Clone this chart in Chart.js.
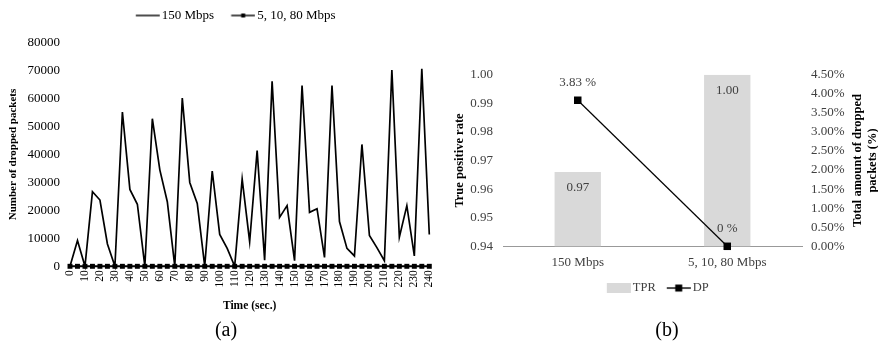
<!DOCTYPE html>
<html>
<head>
<meta charset="utf-8">
<script src="https://cdn.jsdelivr.net/npm/chart.js@4.4.0/dist/chart.umd.min.js"></script>
<style>
  html, body { margin: 0; padding: 0; background: #fff; }
  #wrap { position: relative; width: 878px; height: 348px; overflow: hidden; font-family: "Liberation Serif", "Times New Roman", serif; }
  .cap { position: absolute; top: 317px; width: 40px; text-align: center; font-size: 20px; line-height: 24px; color: #000; }
</style>
</head>
<body>
<div id="wrap">
  <canvas id="chartB" width="438" height="318" style="position:absolute;left:440px;top:0;"></canvas>
  <canvas id="chartA" width="502" height="318" style="position:absolute;left:0;top:0;"></canvas>
  <div class="cap" style="left:206px;">(a)</div>
  <div class="cap" style="left:647px;">(b)</div>
</div>
<script>
// (a) dropped packets over time
const timeLabels = ['0','5','10','15','20','25','30','35','40','45','50','55','60','65','70','75','80','85','90','95',
  '100','105','110','115','120','125','130','135','140','145','150','155','160','165','170','175','180','185','190','195',
  '200','205','210','215','220','225','230','235','240'];
const drops150 = [0, 9200, 0, 26700, 23700, 8000, 0, 55200, 27500, 22200,
  0, 52800, 34500, 23100, 0, 60200, 30000, 22500, 0, 34100,
  11400, 6400, 0, 31200, 8800, 41400, 2200, 66200, 17500, 21700,
  2000, 64700, 19300, 20600, 3200, 64700, 16000, 6400, 3700, 43600,
  11000, 6700, 2000, 70200, 10400, 21700, 3700, 70700, 11400];
const dropsOther = [0, 0, 0, 0, 0, 0, 0, 0, 0, 0,
  0, 0, 0, 0, 0, 0, 0, 0, 0, 0,
  0, 0, 0, 0, 0, 0, 0, 0, 0, 0,
  0, 0, 0, 0, 0, 0, 0, 0, 0, 0,
  0, 0, 0, 0, 0, 0, 0, 0, 0];

// (b) true positive rate vs dropped packets
const rateLabels = ['150 Mbps', '5, 10, 80 Mbps'];
const tprValues = [0.966, 1.0];
const dpValues = [3.83, 0];

const SERIF = '"Liberation Serif", "Times New Roman", serif';
Chart.defaults.font.family = SERIF;
Chart.defaults.animation = false;

// legend icon: 24px line/box, shifted right so it sits close to its text
function legendIcon(kind, shift, marker) {
  const c = document.createElement('canvas');
  c.width = Math.ceil(2 * (12 + shift));
  c.height = 10;
  const g = c.getContext('2d');
  const x0 = c.width / 2 + shift - 12;
  if (kind === 'box') {
    g.fillStyle = '#d9d9d9';
    g.fillRect(x0, 0, 24, 10);
  } else {
    g.strokeStyle = '#000';
    g.lineWidth = 1.4;
    g.beginPath();
    g.moveTo(x0, 5);
    g.lineTo(x0 + 24, 5);
    g.stroke();
    if (marker) {
      g.fillStyle = '#000';
      g.fillRect(x0 + 12 - marker / 2, 5 - marker / 2, marker, marker);
    }
  }
  return c;
}

function fixedLegendHeight(h) {
  return {
    id: 'legendHeight',
    beforeInit(chart) {
      const fit = chart.legend.fit;
      chart.legend.fit = function () {
        fit.bind(chart.legend)();
        this.height = h;
      };
    }
  };
}

// ---------- chart (a) ----------
const iconsA = [legendIcon('line', 6.25, 0), legendIcon('line', 6.25, 4)];

new Chart(document.getElementById('chartA'), {
  type: 'line',
  data: {
    labels: timeLabels,
    datasets: [
      {
        label: '150 Mbps',
        data: drops150,
        borderColor: '#000',
        borderWidth: 1.7,
        pointRadius: 0,
        tension: 0,
        order: 1,
        clip: false
      },
      {
        label: '5, 10, 80 Mbps',
        data: dropsOther,
        borderColor: '#000',
        backgroundColor: '#000',
        borderWidth: 2,
        pointStyle: 'rect',
        pointRadius: 3.5,
        pointBorderWidth: 0,
        order: 0,
        clip: false
      }
    ]
  },
  options: {
    responsive: false,
    // legend spans up to x=463 so it centres like the original; the axis keeps the plot to x=429
    layout: { padding: { left: 0, right: 38.7, top: 0, bottom: 0 } },
    plugins: {
      tooltip: { enabled: false },
      legend: {
        position: 'top',
        labels: {
          usePointStyle: true,
          pointStyleWidth: 27.5,
          padding: 9,
          color: '#000',
          font: { size: 13, family: SERIF },
          sort: (a, b) => a.datasetIndex - b.datasetIndex,
          generateLabels(chart) {
            const items = Chart.defaults.plugins.legend.labels.generateLabels(chart);
            items.forEach(it => { it.pointStyle = iconsA[it.datasetIndex]; });
            return items;
          }
        }
      }
    },
    scales: {
      x: {
        grid: { display: false, drawTicks: false },
        border: { display: false },
        ticks: {
          autoSkip: false,
          minRotation: 90,
          maxRotation: 90,
          padding: 4,
          color: '#000',
          font: { size: 11.5 },
          callback: function (val, idx) {
            return idx % 2 === 0 ? this.getLabelForValue(val) : '';
          }
        },
        title: {
          display: true,
          text: 'Time (sec.)',
          color: '#000',
          font: { size: 11.5, weight: 'bold' },
          padding: { top: 0, bottom: 5 }
        },
        afterFit(scale) {
          scale.height = 51.7;
          scale.paddingRight = 72.7;
        }
      },
      y: {
        min: 0,
        max: 80000,
        grid: { display: false, drawTicks: false },
        border: { display: false },
        ticks: {
          stepSize: 10000,
          padding: 10,
          color: '#000',
          font: { size: 13 },
          callback: v => String(v)
        },
        title: {
          display: true,
          text: 'Number of dropped packets',
          color: '#000',
          font: { size: 11, weight: 'bold' },
          padding: { top: 7, bottom: 0 }
        },
        afterFit(scale) { scale.width = 70; }
      }
    }
  },
  plugins: [fixedLegendHeight(42.7)]
});

// ---------- chart (b) ----------
const iconsB = [legendIcon('box', 4.875, 0), legendIcon('line', 4.875, 7)];

const valueLabels = {
  id: 'valueLabels',
  afterDatasetsDraw(chart) {
    const ctx = chart.ctx;
    ctx.save();
    ctx.font = '13px ' + SERIF;
    ctx.fillStyle = '#404040';
    ctx.textAlign = 'center';
    ctx.textBaseline = 'middle';
    chart.getDatasetMeta(0).data.forEach((bar, i) => {
      ctx.fillText(tprValues[i].toFixed(2), bar.x, bar.y + 16);
    });
    chart.getDatasetMeta(1).data.forEach((pt, i) => {
      ctx.fillText(dpValues[i] + ' %', pt.x, pt.y - 17.5);
    });
    // right axis title, reading bottom to top like the left one
    const y1 = chart.scales.y1;
    const cy = (y1.top + y1.bottom) / 2;
    ctx.font = 'bold 12.5px ' + SERIF;
    ctx.fillStyle = '#000';
    ctx.translate(418, cy);
    ctx.rotate(-Math.PI / 2);
    ctx.fillText('Total amount of dropped', 0, 0);
    ctx.fillText('packets (%)', 0, 15);
    ctx.restore();
  }
};

new Chart(document.getElementById('chartB'), {
  type: 'bar',
  data: {
    labels: rateLabels,
    datasets: [
      {
        type: 'bar',
        label: 'TPR',
        data: tprValues,
        yAxisID: 'y',
        backgroundColor: '#d9d9d9',
        categoryPercentage: 1.0,
        barPercentage: 0.31,
        order: 1
      },
      {
        type: 'line',
        label: 'DP',
        data: dpValues,
        yAxisID: 'y1',
        borderColor: '#000',
        backgroundColor: '#000',
        borderWidth: 1.2,
        pointStyle: 'rect',
        pointRadius: 5.3,
        pointBorderWidth: 0,
        tension: 0,
        order: 0,
        clip: false
      }
    ]
  },
  options: {
    responsive: false,
    layout: { padding: { left: 0, right: 8, top: 74.7, bottom: 0 } },
    plugins: {
      tooltip: { enabled: false },
      legend: {
        position: 'bottom',
        labels: {
          usePointStyle: true,
          pointStyleWidth: 25.25,
          padding: 5.5,
          color: '#404040',
          font: { size: 12.5, family: SERIF },
          sort: (a, b) => a.datasetIndex - b.datasetIndex,
          generateLabels(chart) {
            const items = Chart.defaults.plugins.legend.labels.generateLabels(chart);
            items.forEach(it => { it.pointStyle = iconsB[it.datasetIndex]; });
            return items;
          }
        }
      }
    },
    scales: {
      x: {
        grid: { display: false, drawTicks: false },
        border: { display: true, color: '#999', width: 1 },
        ticks: { padding: 8, color: '#404040', font: { size: 13 } },
        afterFit(scale) { scale.height = 30; }
      },
      y: {
        position: 'left',
        min: 0.94,
        max: 1.0,
        grid: { display: false, drawTicks: false },
        border: { display: false },
        ticks: {
          stepSize: 0.01,
          padding: 10,
          color: '#404040',
          font: { size: 13 },
          callback: v => v.toFixed(2)
        },
        title: {
          display: true,
          text: 'True positive rate',
          color: '#000',
          font: { size: 12.5, weight: 'bold' },
          padding: { top: 12.5, bottom: 0 }
        },
        afterFit(scale) { scale.width = 63; }
      },
      y1: {
        position: 'right',
        min: 0,
        max: 4.5,
        grid: { display: false, drawTicks: false },
        border: { display: false },
        ticks: {
          stepSize: 0.5,
          padding: 9,
          color: '#404040',
          font: { size: 13 },
          callback: v => v.toFixed(2) + '%'
        },
        afterFit(scale) { scale.width = 68; }
      }
    }
  },
  plugins: [fixedLegendHeight(41.7), valueLabels]
});
</script>
</body>
</html>
